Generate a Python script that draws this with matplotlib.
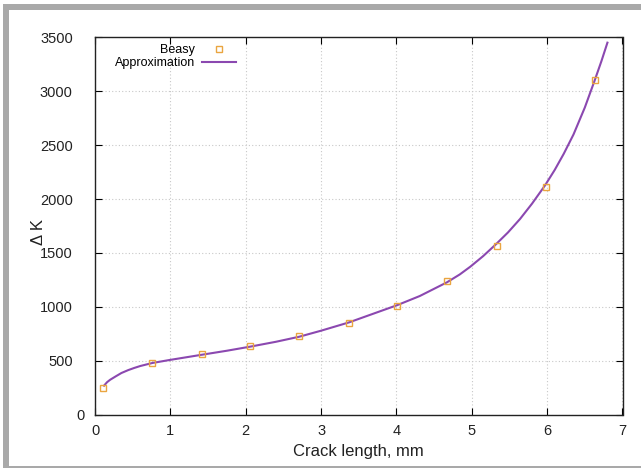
import numpy as np
import matplotlib
matplotlib.use("Agg")
from matplotlib import pyplot as plt
from matplotlib.patches import Rectangle
from matplotlib.transforms import ScaledTranslation

plt.rcParams['font.family'] = ['Liberation Sans', 'DejaVu Sans']

# Beasy points
beasy_x = [0.11, 0.76, 1.42, 2.06, 2.71, 3.37, 4.01, 4.67, 5.33, 5.98, 6.63]
beasy_y = [249, 475, 559, 639, 732, 852, 1010, 1237, 1567, 2115, 3103]

# approximation curve
approx_x = [0.12, 0.16, 0.2, 0.27, 0.35, 0.44, 0.52, 0.6, 0.76, 0.98, 1.2, 1.42,
            1.75, 2.06, 2.4, 2.71, 3.0, 3.37, 3.65, 4.01, 4.31, 4.67, 4.84, 4.98,
            5.15, 5.32, 5.48, 5.64, 5.8, 5.97, 6.1, 6.22, 6.35, 6.5, 6.63, 6.72, 6.80]
approx_y = [268, 300, 322, 352, 385, 412, 432, 450, 478, 505, 530, 555,
            592, 630, 675, 722, 778, 855, 925, 1015, 1100, 1227, 1300, 1372,
            1470, 1580, 1690, 1815, 1958, 2125, 2270, 2420, 2600, 2850, 3100, 3280, 3452]

x_ticks = [0, 1, 2, 3, 4, 5, 6, 7]
y_ticks = [0, 500, 1000, 1500, 2000, 2500, 3000, 3500]

W, H = 641, 468
fig = plt.figure(figsize=(W / 100, H / 100), dpi=100)

# gray frame around the picture
fig.patches.append(Rectangle((3 / W, 0), 1, 1 - 4 / H, transform=fig.transFigure,
                             facecolor='#a9a9a9', edgecolor='none', zorder=-10))
fig.patches.append(Rectangle((9 / W, 2 / H), 1, 1 - 12 / H, transform=fig.transFigure,
                             facecolor='white', edgecolor='none', zorder=-9))

ax = fig.add_axes([95 / W, (H - 414.5) / H, (622.5 - 95) / W, (414.5 - 37.5) / H])
ax.set_facecolor('none')

ax.plot(beasy_x, beasy_y, linestyle='none', marker='s', markersize=5,
        markerfacecolor='none', markeredgecolor='#eaa540', markeredgewidth=1.0,
        label='Beasy', zorder=3)
ax.plot(approx_x, approx_y, color='#8b48b0', lw=1.5, label='Approximation', zorder=2)

ax.set_xlim(0, 7)
ax.set_ylim(0, 3500)
ax.set_xticks(x_ticks)
ax.set_yticks(y_ticks)
ax.tick_params(direction='in', length=5, width=0.8, top=True, right=True,
               labelsize=10.5, labelcolor='#222222')
ax.tick_params(axis='x', pad=7)
ax.tick_params(axis='y', pad=16)
ax.grid(True, color='#c8c8c8', linestyle=(0, (1, 2)), lw=0.8)
for s in ax.spines.values():
    s.set_linewidth(1.0)
    s.set_color('#222222')

# the "0" on the y axis sits closer to the axis
fig.canvas.draw()
lbl0 = ax.get_yticklabels()[0]
lbl0.set_transform(lbl0.get_transform() + ScaledTranslation(12 / 100, 0, fig.dpi_scale_trans))

ax.set_xlabel('Crack length, mm', fontsize=12, color='#222222', labelpad=4)
ax.set_ylabel('\u0394 K', fontsize=12, color='#222222')
ax.yaxis.set_label_coords(-0.093, 0.485)

leg = ax.legend(loc='upper left', markerfirst=False, frameon=False, fontsize=9,
                handlelength=2.7, handletextpad=0.55, labelspacing=0.05,
                bbox_to_anchor=(0.021, 1.005), borderaxespad=0.3)

fig.savefig('out.png', dpi=100)
